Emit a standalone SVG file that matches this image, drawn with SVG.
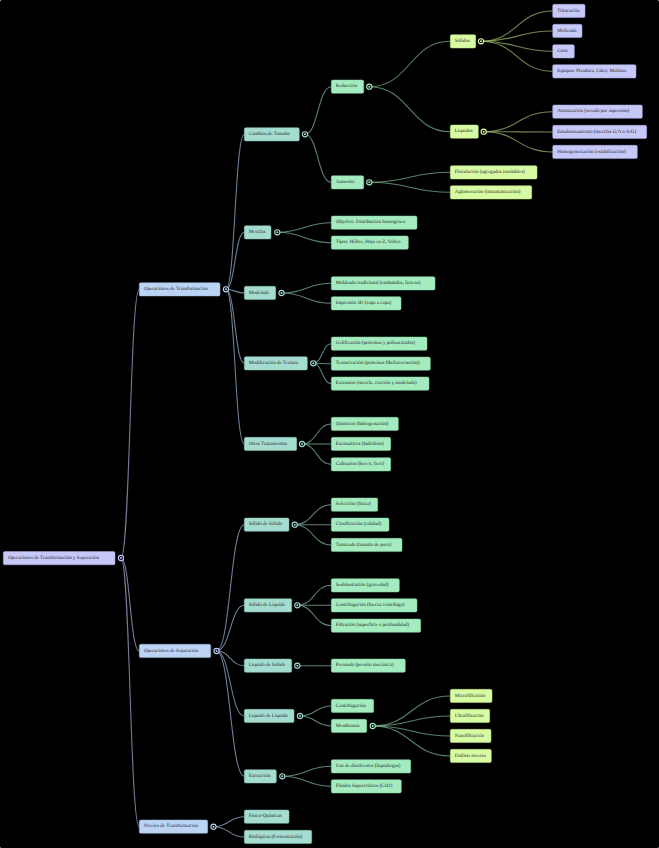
<svg xmlns="http://www.w3.org/2000/svg" width="659" height="848" viewBox="0 0 659 848">
<style>
text{font-family:"Liberation Serif","Times New Roman",serif;font-size:5px;fill:#222;dominant-baseline:central;text-rendering:geometricPrecision}
rect{rx:1.5;ry:1.5;stroke-width:0.5}
.l0 rect,.l5 rect{fill:#c6c8f8;stroke:#a8aae0}
.l1 rect{fill:#bcd4f4;stroke:#9cb6dc}
.l2 rect{fill:#a4dcd0;stroke:#86c0b2}
.l3 rect{fill:#a4ecc0;stroke:#86d0a2}
.l4 rect{fill:#d8fca4;stroke:#bce086}
path{fill:none;stroke-width:1.1;stroke-opacity:0.65}
.c0 path{stroke:#b8bae8}
.c1 path{stroke:#a8c2e4}
.c2 path{stroke:#8cc4b6}
.c3 path{stroke:#86c8a0}
.c4 path{stroke:#b4d080}
.k{fill:#000;stroke-width:1.1}
</style>
<rect width="659" height="848" fill="#000" style="stroke:none"/>
<g id="connectors">
<g class="c0">
<path d="M121,558 C130,558 130,289.3 139.3,289.3"/>
<path d="M121,558 C130,558 130,651 139.3,651"/>
<path d="M121,558 C130,558 130,826.7 139.3,826.7"/>
</g>
<g class="c1">
<path d="M226,289.3 C235,289.3 235,134.3 244.3,134.3"/>
<path d="M226,289.3 C235,289.3 235,232.3 244.3,232.3"/>
<path d="M226,289.3 C235,289.3 235,293 244.3,293"/>
<path d="M226,289.3 C235,289.3 235,363.3 244.3,363.3"/>
<path d="M226,289.3 C235,289.3 235,444 244.3,444"/>
<path d="M216.5,651 C230.4,651 230.4,524.7 244.3,524.7"/>
<path d="M216.5,651 C230.4,651 230.4,605.3 244.3,605.3"/>
<path d="M216.5,651 C230.4,651 230.4,665.7 244.3,665.7"/>
<path d="M216.5,651 C230.4,651 230.4,716 244.3,716"/>
<path d="M216.5,651 C230.4,651 230.4,776.3 244.3,776.3"/>
<path d="M213.5,826.7 C229,826.7 229,816.7 244.3,816.7"/>
<path d="M213.5,826.7 C229,826.7 229,837 244.3,837"/>
</g>
<g class="c2">
<path d="M305,134.3 C318,134.3 318,86.7 331.3,86.7"/>
<path d="M305,134.3 C318,134.3 318,182.3 331.3,182.3"/>
<path d="M277.3,232.3 C304.3,232.3 304.3,222.7 331.3,222.7"/>
<path d="M277.3,232.3 C304.3,232.3 304.3,242.7 331.3,242.7"/>
<path d="M281.5,293 C306.4,293 306.4,283.3 331.3,283.3"/>
<path d="M281.5,293 C306.4,293 306.4,303.3 331.3,303.3"/>
<path d="M313.3,363.3 C322.3,363.3 322.3,343.7 331.3,343.7"/>
<path d="M313.3,363.3 C322.3,363.3 322.3,363.7 331.3,363.7"/>
<path d="M313.3,363.3 C322.3,363.3 322.3,383.7 331.3,383.7"/>
<path d="M302,444 C316.7,444 316.7,424 331.3,424"/>
<path d="M302,444 C316.7,444 316.7,444 331.3,444"/>
<path d="M302,444 C316.7,444 316.7,464.3 331.3,464.3"/>
<path d="M294.7,524.7 C313,524.7 313,504.7 331.3,504.7"/>
<path d="M294.7,524.7 C313,524.7 313,524.7 331.3,524.7"/>
<path d="M294.7,524.7 C313,524.7 313,545 331.3,545"/>
<path d="M297.3,605.3 C314.3,605.3 314.3,585.3 331.3,585.3"/>
<path d="M297.3,605.3 C314.3,605.3 314.3,605.3 331.3,605.3"/>
<path d="M297.3,605.3 C314.3,605.3 314.3,625.7 331.3,625.7"/>
<path d="M297.3,665.7 L331.3,665.7"/>
<path d="M300,716 C315.7,716 315.7,706 331.3,706"/>
<path d="M300,716 C315.7,716 315.7,726 331.3,726"/>
<path d="M282.3,776.3 C306.8,776.3 306.8,766.3 331.3,766.3"/>
<path d="M282.3,776.3 C306.8,776.3 306.8,786.3 331.3,786.3"/>
</g>
<g class="c3">
<path d="M369.3,86.7 C409.8,86.7 409.8,41.3 450.3,41.3"/>
<path d="M369.3,86.7 C409.8,86.7 409.8,131.7 450.3,131.7"/>
<path d="M369.3,182.3 C409.8,182.3 409.8,172.3 450.3,172.3"/>
<path d="M369.3,182.3 C409.8,182.3 409.8,192.3 450.3,192.3"/>
<path d="M372.7,726 C411.5,726 411.5,696 450.3,696"/>
<path d="M372.7,726 C411.5,726 411.5,716 450.3,716"/>
<path d="M372.7,726 C411.5,726 411.5,736 450.3,736"/>
<path d="M372.7,726 C411.5,726 411.5,756 450.3,756"/>
</g>
<g class="c4">
<path d="M481,41.3 C516.9,41.3 516.9,11 552.7,11"/>
<path d="M481,41.3 C516.9,41.3 516.9,31 552.7,31"/>
<path d="M481,41.3 C516.9,41.3 516.9,51.3 552.7,51.3"/>
<path d="M481,41.3 C516.9,41.3 516.9,71.3 552.7,71.3"/>
<path d="M483.7,131.7 C518.2,131.7 518.2,111.7 552.7,111.7"/>
<path d="M483.7,131.7 C518.2,131.7 518.2,132 552.7,132"/>
<path d="M483.7,131.7 C518.2,131.7 518.2,152 552.7,152"/>
</g>
</g>

<g id="root" class="l0"><rect x="3.3" y="551.5" width="111.7" height="13.3"/><text x="8" y="558.2">Operaciones de Transformación y Separación</text><circle class="k" cx="121" cy="558" r="2.6" stroke="#c6c8f8"/><circle cx="121" cy="558" r="1" fill="#c6c8f8"/></g>

<g id="op-transformacion" class="l1"><rect x="139.3" y="282.7" width="80.7" height="13.3"/><text x="143.8" y="289.4">Operaciones de Transformación</text><circle class="k" cx="226" cy="289.3" r="2.6" stroke="#bcd4f4"/><circle cx="226" cy="289.3" r="1" fill="#bcd4f4"/></g>
<g id="op-separacion" class="l1"><rect x="139.3" y="644.3" width="71.4" height="13.3"/><text x="143.8" y="651">Operaciones de Separación</text><circle class="k" cx="216.5" cy="651" r="2.6" stroke="#bcd4f4"/><circle cx="216.5" cy="651" r="1" fill="#bcd4f4"/></g>
<g id="niveles" class="l1"><rect x="139.3" y="820" width="68.4" height="13.3"/><text x="143.8" y="826.7">Niveles de Transformación</text><circle class="k" cx="213.5" cy="826.7" r="2.6" stroke="#bcd4f4"/><circle cx="213.5" cy="826.7" r="1" fill="#bcd4f4"/></g>

<g id="cambios" class="l2"><rect x="244.3" y="127.7" width="55" height="13.3"/><text x="248.8" y="134.4">Cambios de Tamaño</text><circle class="k" cx="305" cy="134.3" r="2.6" stroke="#a4dcd0"/><circle cx="305" cy="134.3" r="1" fill="#a4dcd0"/></g>
<g id="mezclas" class="l2"><rect x="244.3" y="225.7" width="26.7" height="13.3"/><text x="248.8" y="232.4">Mezclas</text><circle class="k" cx="277.3" cy="232.3" r="2.6" stroke="#a4dcd0"/><circle cx="277.3" cy="232.3" r="1" fill="#a4dcd0"/></g>
<g id="modelado" class="l2"><rect x="244.3" y="286.3" width="31.4" height="13.3"/><text x="248.8" y="293">Modelado</text><circle class="k" cx="281.5" cy="293" r="2.6" stroke="#a4dcd0"/><circle cx="281.5" cy="293" r="1" fill="#a4dcd0"/></g>
<g id="textura" class="l2"><rect x="244.3" y="356.7" width="63" height="13.3"/><text x="248.8" y="363.4">Modificación de Textura</text><circle class="k" cx="313.3" cy="363.3" r="2.6" stroke="#a4dcd0"/><circle cx="313.3" cy="363.3" r="1" fill="#a4dcd0"/></g>
<g id="otros" class="l2"><rect x="244.3" y="437.3" width="52.4" height="13.3"/><text x="248.8" y="444">Otros Tratamientos</text><circle class="k" cx="302" cy="444" r="2.6" stroke="#a4dcd0"/><circle cx="302" cy="444" r="1" fill="#a4dcd0"/></g>
<g id="sds" class="l2"><rect x="244.3" y="518" width="44.7" height="13.3"/><text x="248.8" y="524.7">Sólido de Sólido</text><circle class="k" cx="294.7" cy="524.7" r="2.6" stroke="#a4dcd0"/><circle cx="294.7" cy="524.7" r="1" fill="#a4dcd0"/></g>
<g id="sdl" class="l2"><rect x="244.3" y="598.7" width="47.4" height="13.3"/><text x="248.8" y="605.4">Sólido de Líquido</text><circle class="k" cx="297.3" cy="605.3" r="2.6" stroke="#a4dcd0"/><circle cx="297.3" cy="605.3" r="1" fill="#a4dcd0"/></g>
<g id="lds" class="l2"><rect x="244.3" y="659" width="47.4" height="13.3"/><text x="248.8" y="665.7">Líquido de Sólido</text><circle class="k" cx="297.3" cy="665.7" r="2.6" stroke="#a4dcd0"/><circle cx="297.3" cy="665.7" r="1" fill="#a4dcd0"/></g>
<g id="ldl" class="l2"><rect x="244.3" y="709.3" width="49.7" height="13.3"/><text x="248.8" y="716">Líquido de Líquido</text><circle class="k" cx="300" cy="716" r="2.6" stroke="#a4dcd0"/><circle cx="300" cy="716" r="1" fill="#a4dcd0"/></g>
<g id="extraccion" class="l2"><rect x="244.3" y="769.7" width="32" height="13.3"/><text x="248.8" y="776.4">Extracción</text><circle class="k" cx="282.3" cy="776.3" r="2.6" stroke="#a4dcd0"/><circle cx="282.3" cy="776.3" r="1" fill="#a4dcd0"/></g>
<g id="fisico" class="l2"><rect x="244.3" y="810" width="44.7" height="13.3"/><text x="248.8" y="816.7">Físico-Químicas</text></g>
<g id="biologicas" class="l2"><rect x="244.3" y="830.3" width="67.4" height="13.3"/><text x="248.8" y="837">Biológicas (Fermentación)</text></g>

<g id="reduccion" class="l3"><rect x="331.3" y="80" width="32.4" height="13.3"/><text x="335.8" y="86.7">Reducción</text><circle class="k" cx="369.3" cy="86.7" r="2.6" stroke="#a4ecc0"/><circle cx="369.3" cy="86.7" r="1" fill="#a4ecc0"/></g>
<g id="aumento" class="l3"><rect x="331.3" y="175.7" width="32.4" height="13.3"/><text x="335.8" y="182.4">Aumento</text><circle class="k" cx="369.3" cy="182.3" r="2.6" stroke="#a4ecc0"/><circle cx="369.3" cy="182.3" r="1" fill="#a4ecc0"/></g>
<g id="objetivo" class="l3"><rect x="331.3" y="216" width="85.7" height="13.3"/><text x="335.8" y="222.7">Objetivo: Distribución homogénea</text></g>
<g id="tipos" class="l3"><rect x="331.3" y="236" width="77" height="13.3"/><text x="335.8" y="242.7">Tipos: Hélice, Hoja en Z, Volteo</text></g>
<g id="moldeado" class="l3"><rect x="331.3" y="276.7" width="103.7" height="13.3"/><text x="335.8" y="283.4">Moldeado tradicional (embutidos, lácteos)</text></g>
<g id="impresion" class="l3"><rect x="331.3" y="296.7" width="69.7" height="13.3"/><text x="335.8" y="303.4">Impresión 3D (capa a capa)</text></g>
<g id="gelificacion" class="l3"><rect x="331.3" y="337" width="95.7" height="13.3"/><text x="335.8" y="343.7">Gelificación (proteínas y polisacáridos)</text></g>
<g id="texturizacion" class="l3"><rect x="331.3" y="357" width="99" height="13.3"/><text x="335.8" y="363.7">Texturización (proteínas fibrilares/surimi)</text></g>
<g id="extrusion" class="l3"><rect x="331.3" y="377" width="97.7" height="13.3"/><text x="335.8" y="383.7">Extrusión (mezcla, cocción y modelado)</text></g>
<g id="quimicos" class="l3"><rect x="331.3" y="417.3" width="67" height="13.3"/><text x="335.8" y="424">Químicos (hidrogenación)</text></g>
<g id="enzimaticos" class="l3"><rect x="331.3" y="437.3" width="59.4" height="13.3"/><text x="335.8" y="444">Enzimáticos (hidrólisis)</text></g>
<g id="culinarios" class="l3"><rect x="331.3" y="457.7" width="59.4" height="13.3"/><text x="335.8" y="464.4">Culinarios (hervir, freír)</text></g>
<g id="seleccion" class="l3"><rect x="331.3" y="498" width="46.4" height="13.3"/><text x="335.8" y="504.7">Selección (física)</text></g>
<g id="clasificacion" class="l3"><rect x="331.3" y="518" width="57.7" height="13.3"/><text x="335.8" y="524.7">Clasificación (calidad)</text></g>
<g id="tamizado" class="l3"><rect x="331.3" y="538.3" width="70.7" height="13.3"/><text x="335.8" y="545">Tamizado (tamaño de poro)</text></g>
<g id="sedimentacion" class="l3"><rect x="331.3" y="578.7" width="68" height="13.3"/><text x="335.8" y="585.4">Sedimentación (gravedad)</text></g>
<g id="centrifugacion-fc" class="l3"><rect x="331.3" y="598.7" width="85.7" height="13.3"/><text x="335.8" y="605.4">Centrifugación (fuerza centrífuga)</text></g>
<g id="filtracion" class="l3"><rect x="331.3" y="619" width="89.4" height="13.3"/><text x="335.8" y="625.7">Filtración (superficie o profundidad)</text></g>
<g id="prensado" class="l3"><rect x="331.3" y="659" width="74" height="13.3"/><text x="335.8" y="665.7">Prensado (presión mecánica)</text></g>
<g id="centrifugacion" class="l3"><rect x="331.3" y="699.3" width="42.4" height="13.3"/><text x="335.8" y="706">Centrifugación</text></g>
<g id="membranas" class="l3"><rect x="331.3" y="719.3" width="35.4" height="13.3"/><text x="335.8" y="726">Membranas</text><circle class="k" cx="372.7" cy="726" r="2.6" stroke="#a4ecc0"/><circle cx="372.7" cy="726" r="1" fill="#a4ecc0"/></g>
<g id="disolventes" class="l3"><rect x="331.3" y="759.7" width="79.4" height="13.3"/><text x="335.8" y="766.4">Uso de disolventes (líquido/gas)</text></g>
<g id="supercriticos" class="l3"><rect x="331.3" y="779.7" width="70" height="13.3"/><text x="335.8" y="786.4">Fluidos Supercríticos (CO2)</text></g>

<g id="solidos" class="l4"><rect x="450.3" y="34.7" width="25.4" height="13.3"/><text x="454.8" y="41.4">Sólidos</text><circle class="k" cx="481" cy="41.3" r="2.6" stroke="#d8fca4"/><circle cx="481" cy="41.3" r="1" fill="#d8fca4"/></g>
<g id="liquidos" class="l4"><rect x="450.3" y="125" width="28" height="13.3"/><text x="454.8" y="131.7">Líquidos</text><circle class="k" cx="483.7" cy="131.7" r="2.6" stroke="#d8fca4"/><circle cx="483.7" cy="131.7" r="1" fill="#d8fca4"/></g>
<g id="floculacion" class="l4"><rect x="450.3" y="165.7" width="86.7" height="13.3"/><text x="454.8" y="172.4">Floculación (agregados insolubles)</text></g>
<g id="aglomeracion" class="l4"><rect x="450.3" y="185.7" width="81.4" height="13.3"/><text x="454.8" y="192.4">Aglomeración (instantanización)</text></g>
<g id="microfiltracion" class="l4"><rect x="450.3" y="689.3" width="41.7" height="13.3"/><text x="454.8" y="696">Microfiltración</text></g>
<g id="ultrafiltracion" class="l4"><rect x="450.3" y="709.3" width="39.4" height="13.3"/><text x="454.8" y="716">Ultrafiltración</text></g>
<g id="nanofiltracion" class="l4"><rect x="450.3" y="729.3" width="40.7" height="13.3"/><text x="454.8" y="736">Nanofiltración</text></g>
<g id="dialisis" class="l4"><rect x="450.3" y="749.3" width="41" height="13.3"/><text x="454.8" y="756">Diálisis inversa</text></g>

<g id="trituracion" class="l5"><rect x="552.7" y="4.3" width="32.3" height="13.3"/><text x="557.2" y="11">Trituración</text></g>
<g id="molienda" class="l5"><rect x="552.7" y="24.3" width="29.3" height="13.3"/><text x="557.2" y="31">Molienda</text></g>
<g id="corte" class="l5"><rect x="552.7" y="44.7" width="21.6" height="13.3"/><text x="557.2" y="51.4">Corte</text></g>
<g id="equipos" class="l5"><rect x="552.7" y="64.7" width="83.3" height="13.3"/><text x="557.2" y="71.4">Equipos: Picadora, Cúter, Molinos</text></g>
<g id="atomizacion" class="l5"><rect x="552.7" y="105" width="89.6" height="13.3"/><text x="557.2" y="111.7">Atomización (secado por aspersión)</text></g>
<g id="emulsionamiento" class="l5"><rect x="552.7" y="125.3" width="94" height="13.3"/><text x="557.2" y="132">Emulsionamiento (mezclas G/A o A/G)</text></g>
<g id="homogeneizacion" class="l5"><rect x="552.7" y="145.3" width="84.6" height="13.3"/><text x="557.2" y="152">Homogeneización (estabilización)</text></g>
</svg>
